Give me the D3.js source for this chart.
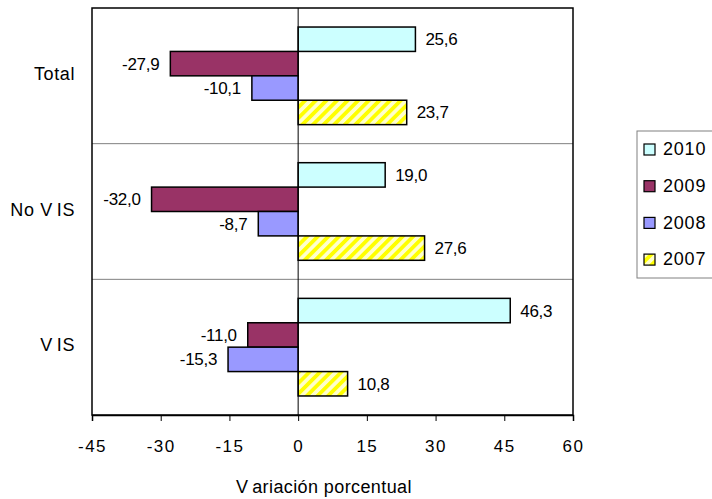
<!DOCTYPE html>
<html>
<head>
<meta charset="utf-8">
<script src="https://cdn.jsdelivr.net/npm/d3@7"></script>
<style>
  body { margin: 0; background: #fff; }
  svg { font-family: "Liberation Sans", Arial, sans-serif; }
</style>
</head>
<body>
<div id="chart"></div>
<script>
// categories top to bottom, years top to bottom within each group
let categories = ["Total", "No VIS", "VIS"];
let years = ["2010", "2009", "2008", "2007"];
let v2010 = [25.6, 19.0, 46.3];
let v2009 = [-27.9, -32.0, -11.0];
let v2008 = [-10.1, -8.7, -15.3];
let v2007 = [23.7, 27.6, 10.8];
let ticks = [-45, -30, -15, 0, 15, 30, 45, 60];

let series = [v2010, v2009, v2008, v2007];
let colors = ["#CCFFFF", "#993366", "#9999FF", "url(#hatch)"];

let width = 712, height = 499;
let margin = {top: 8, right: 139, bottom: 84, left: 92};

const svg = d3.select("#chart").append("svg")
    .attr("width", width)
    .attr("height", height);

// yellow diagonal hatch for 2007
const defs = svg.append("defs");
const pat = defs.append("pattern")
    .attr("id", "hatch")
    .attr("patternUnits", "userSpaceOnUse")
    .attr("width", 7.5).attr("height", 7.5)
    .attr("patternTransform", "rotate(45)");
pat.append("rect").attr("width", 7.5).attr("height", 7.5).attr("fill", "#FFFFCC");
pat.append("rect").attr("width", 3.8).attr("height", 7.5).attr("fill", "#FFFF00");

let x = d3.scaleLinear()
    .domain([-45, 60])
    .range([margin.left, width - margin.right]);

let y = d3.scaleBand()
    .domain(categories)
    .range([margin.top, height - margin.bottom]);

let yInner = d3.scaleBand()
    .domain(years)
    .range([0, y.bandwidth()])
    .paddingOuter(0.78);

// category separators
svg.append("g")
  .selectAll("line")
  .data(categories.slice(1))
  .join("line")
    .attr("x1", margin.left).attr("x2", width - margin.right)
    .attr("y1", d => y(d)).attr("y2", d => y(d))
    .attr("stroke", "#808080").attr("stroke-width", 1);

// bars
let rows = [];
categories.forEach((c, i) => {
  years.forEach((yr, j) => {
    rows.push({cat: c, year: yr, value: series[j][i], color: colors[j]});
  });
});

svg.append("g")
  .selectAll("rect")
  .data(rows)
  .join("rect")
    .attr("x", d => x(Math.min(0, d.value)))
    .attr("width", d => Math.abs(x(d.value) - x(0)))
    .attr("y", d => y(d.cat) + yInner(d.year))
    .attr("height", yInner.bandwidth())
    .attr("fill", d => d.color)
    .attr("stroke", "#000")
    .attr("stroke-width", 1.5);

// zero line
svg.append("line")
    .attr("x1", x(0)).attr("x2", x(0))
    .attr("y1", margin.top).attr("y2", height - margin.bottom)
    .attr("stroke", "#000").attr("stroke-width", 1);

// value labels
svg.append("g")
    .attr("font-size", 17)
    .attr("letter-spacing", -0.3)
  .selectAll("text")
  .data(rows)
  .join("text")
    .attr("x", d => d.value >= 0 ? x(d.value) + 10 : x(d.value) - 11)
    .attr("y", d => y(d.cat) + yInner(d.year) + yInner.bandwidth() / 2)
    .attr("dy", "0.35em")
    .attr("text-anchor", d => d.value >= 0 ? "start" : "end")
    .text(d => d3.format(".1f")(d.value).replace(".", ",").replace("−", "-"));

// plot frame
svg.append("rect")
    .attr("x", margin.left).attr("y", margin.top)
    .attr("width", width - margin.right - margin.left)
    .attr("height", height - margin.bottom - margin.top)
    .attr("fill", "none")
    .attr("stroke", "#000").attr("stroke-width", 1.5);

// x axis
const xAxis = svg.append("g")
    .attr("transform", `translate(0,${height - margin.bottom})`)
    .call(d3.axisBottom(x).tickValues(ticks).tickSize(6).tickPadding(19)
      .tickFormat(d => String(d)));
xAxis.select(".domain").attr("stroke-width", 1.5);
xAxis.selectAll("text")
    .attr("font-family", "Liberation Sans, Arial, sans-serif")
    .attr("font-size", 17).attr("letter-spacing", 1.5)
    .attr("fill", "#000");

// category labels (the source leaves a gap after the "V")
const catText = svg.append("g")
    .attr("font-size", 18)
    .attr("letter-spacing", 0.6)
  .selectAll("text")
  .data(categories)
  .join("text")
    .attr("x", margin.left - 17)
    .attr("y", d => y(d) + y.bandwidth() / 2 - 2)
    .attr("dy", "0.35em")
    .attr("text-anchor", "end");
catText.each(function(d) {
  const t = d3.select(this);
  const k = d.indexOf("V");
  if (k < 0) { t.text(d); return; }
  t.append("tspan").text(d.slice(0, k + 1));
  t.append("tspan").attr("dx", 4).text(d.slice(k + 1));
});

// axis title
const title = svg.append("text")
    .attr("x", 324).attr("y", 493)
    .attr("text-anchor", "middle")
    .attr("font-size", 18)
    .attr("letter-spacing", 0.4);
title.append("tspan").text("V");
title.append("tspan").attr("dx", 5).text("ariación porcentual");

// legend
const leg = svg.append("g").attr("transform", "translate(637,131)");
leg.append("rect")
    .attr("width", 90).attr("height", 147)
    .attr("fill", "#fff").attr("stroke", "#808080").attr("stroke-width", 1);
const item = leg.selectAll("g")
  .data(years)
  .join("g")
    .attr("transform", (d, i) => `translate(7,${18 + i * 36.7})`);
item.append("rect")
    .attr("x", 0).attr("y", -5)
    .attr("width", 11).attr("height", 11)
    .attr("fill", (d, i) => colors[i])
    .attr("stroke", "#000").attr("stroke-width", 1.2);
item.append("text")
    .attr("x", 19).attr("dy", "0.35em")
    .attr("font-size", 18).attr("letter-spacing", 0.8)
    .text(d => d);
</script>
</body>
</html>
